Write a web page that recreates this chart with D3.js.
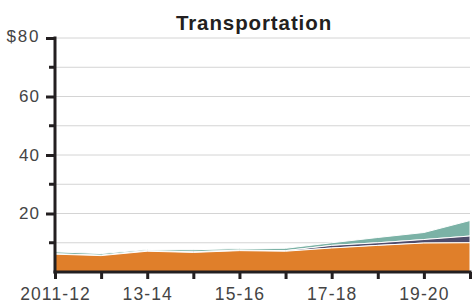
<!DOCTYPE html>
<html><head><meta charset="utf-8">
<script src="https://cdn.jsdelivr.net/npm/d3@7"></script>
<style>body{margin:0;background:#fff}svg{display:block}</style>
</head><body>
<script>
const years = ["2011-12","2012-13","2013-14","2014-15","2015-16","2016-17","2017-18","2018-19","2019-20","2020-21"];
const tickLabels = ["2011-12","13-14","15-16","17-18","19-20"];
const seriesA = [6.1, 5.6, 7.1, 6.7, 7.3, 7.1, 8.2, 9.1, 9.9, 10.0];
const seriesB = [0.1, 0.1, 0.2, 0.2, 0.2, 0.2, 0.9, 0.9, 1.2, 2.3];
const seriesC = [0.7, 0.6, 0.4, 0.7, 0.5, 0.8, 0.9, 1.8, 2.4, 5.3];
const yTicks = [20, 40, 60, 80];
const title = "Transportation";

const W = 474, H = 306;
const m = {l: 55, r: 470, t: 38, b: 272};
const svg = d3.select("body").append("svg").attr("width", W).attr("height", H);
const font = "'Liberation Sans', Helvetica, Arial, sans-serif";

const x = d3.scalePoint().domain(years).range([m.l, m.r]);
const y = d3.scaleLinear().domain([0, 80]).range([m.b, m.t]);

// gridlines
svg.append("g").selectAll("line").data(d3.range(10, 81, 10)).join("line")
  .attr("x1", m.l).attr("x2", m.r).attr("y1", d => y(d)).attr("y2", d => y(d))
  .attr("stroke", "#d4d4d4").attr("stroke-width", 1);

// stacked areas
const table = years.map((yr, i) => ({yr, a: seriesA[i], b: seriesB[i], c: seriesC[i]}));
const stack = d3.stack().keys(["a", "b", "c"])(table);
const colors = {a: "#e07f2a", b: "#4f4c6b", c: "#7bb2a6"};
const area = d3.area().x(d => x(d.data.yr)).y0(d => y(d[0])).y1(d => y(d[1]));
svg.append("g").selectAll("path").data(stack.slice().reverse()).join("path")
  .attr("d", area).attr("fill", d => colors[d.key])
  .attr("stroke", "#fff").attr("stroke-width", 1).attr("stroke-linejoin", "round");

// Y axis
const ya = svg.append("g").attr("transform", `translate(${m.l},0)`)
  .call(d3.axisLeft(y).tickValues(yTicks).tickSize(9).tickPadding(5)
    .tickFormat(d => d === 80 ? "$80" : d));
ya.select(".domain").remove();
ya.selectAll(".tick line").attr("stroke", "#231f20").attr("stroke-width", 3);
ya.selectAll("text").attr("font-family", font).attr("font-size", 17)
  .style("letter-spacing", "1.2px").attr("fill", "#444").attr("dx", -0.8);
ya.selectAll(".tick").filter(d => d === 80).select("text").attr("dy", "0.2em")
  .style("letter-spacing", "1.8px");
svg.append("g").selectAll("line").data([10, 30, 50, 70]).join("line")
  .attr("x1", m.l - 6).attr("x2", m.l).attr("y1", d => y(d)).attr("y2", d => y(d))
  .attr("stroke", "#231f20").attr("stroke-width", 3);
svg.append("line").attr("x1", m.l).attr("x2", m.l).attr("y1", m.t - 1.5).attr("y2", m.b + 1.5)
  .attr("stroke", "#231f20").attr("stroke-width", 3);

// X axis
const xa = svg.append("g").attr("transform", `translate(0,${m.b})`)
  .call(d3.axisBottom(x).tickSize(7).tickPadding(9)
    .tickFormat((d, i) => i % 2 === 0 ? tickLabels[i / 2] : ""));
xa.select(".domain").remove();
xa.selectAll(".tick line").attr("stroke", "#231f20").attr("stroke-width", 3);
xa.selectAll("text").attr("font-family", font).attr("font-size", 17.5)
  .style("letter-spacing", "1.1px").attr("fill", "#444");
svg.append("line").attr("x1", m.l - 1.5).attr("x2", m.r + 1.5).attr("y1", m.b).attr("y2", m.b)
  .attr("stroke", "#231f20").attr("stroke-width", 3);

// title
svg.append("text").attr("x", 254).attr("y", 30).attr("text-anchor", "middle")
  .attr("font-family", font).attr("font-weight", "bold").attr("font-size", 20.5)
  .style("letter-spacing", "0.9px").attr("fill", "#231f20").text(title);
</script>
</body></html>
